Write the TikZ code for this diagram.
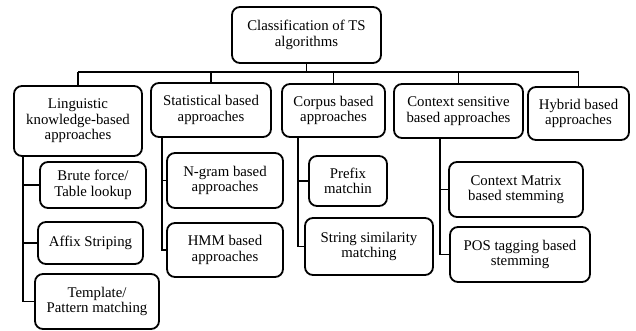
\documentclass[tikz,border=0pt]{standalone}
\usepackage{fontspec}
\setmainfont{Liberation Serif}
\begin{document}
\begin{tikzpicture}[x=1pt,y=-1pt,
  box/.style={draw,line width=1.8pt,rounded corners=8pt,inner sep=0pt,align=center,
    font=\fontsize{14.8}{15.5}\selectfont},
  conn/.style={line width=1.8pt}]
\useasboundingbox (0,0) rectangle (636,331);
% level 0
\node[box,minimum width=149pt,minimum height=56pt] (root) at (306.5,35) {Classification of TS\\algorithms};
% level 1
\node[box,minimum width=128pt,minimum height=70pt] (ling) at (78,121) {Linguistic\\knowledge-based\\approaches};
\node[box,minimum width=120pt,minimum height=54pt] (stat) at (211,110) {Statistical based\\approaches};
\node[box,minimum width=103pt,minimum height=53pt] (corp) at (333.5,110.5) {Corpus based\\approaches};
\node[box,minimum width=129pt,minimum height=54pt] (ctx) at (458.5,111) {Context sensitive\\based approaches};
\node[box,minimum width=101pt,minimum height=53pt] (hyb) at (578.5,113.5) {Hybrid based\\approaches};
% level 2
\node[box,minimum width=106pt,minimum height=46pt] (brute) at (93,185) {Brute force/\\Table lookup};
\node[box,minimum width=105pt,minimum height=42pt] (affix) at (90.5,243) {Affix Striping};
\node[box,minimum width=124pt,minimum height=55pt] (templ) at (97,301.5) {Template/\\Pattern matching};
\node[box,minimum width=116pt,minimum height=55pt] (ngram) at (225,180.5) {N-gram based\\approaches};
\node[box,minimum width=116pt,minimum height=54pt] (hmm) at (225,250) {HMM based\\approaches};
\node[box,minimum width=78pt,minimum height=50pt] (prefix) at (348,181) {Prefix\\matchin};
\node[box,minimum width=128pt,minimum height=57pt] (strsim) at (369,246.5) {String similarity\\matching};
\node[box,minimum width=134pt,minimum height=55pt] (cmat) at (516,189.5) {Context Matrix\\based stemming};
\node[box,minimum width=140pt,minimum height=55pt] (pos) at (520,254.5) {POS tagging based\\stemming};
% bus
\coordinate (busL) at (78,72);
\coordinate (busR) at (578.5,72);
\draw[conn] (root.south) -- (root.south|-busL);
\draw[conn] (busL) -- (busR);
\foreach \n in {ling,stat,corp,ctx,hyb}
  \draw[conn] (\n.north|-busL) -- (\n.north);
% spines
\coordinate (sL) at (23,0);
\coordinate (sS) at (162,0);
\coordinate (sC) at (298,0);
\coordinate (sX) at (440,0);
\draw[conn] (sL|-ling.south) |- (templ.west);
\draw[conn] (sL|-brute.west) -- (brute.west);
\draw[conn] (sL|-affix.west) -- (affix.west);
\draw[conn] (sS|-stat.south) |- (hmm.west);
\draw[conn] (sS|-ngram.west) -- (ngram.west);
\draw[conn] (sC|-corp.south) |- (strsim.west);
\draw[conn] (sC|-prefix.west) -- (prefix.west);
\draw[conn] (sX|-ctx.south) |- (pos.west);
\draw[conn] (sX|-cmat.west) -- (cmat.west);
\end{tikzpicture}
\end{document}
